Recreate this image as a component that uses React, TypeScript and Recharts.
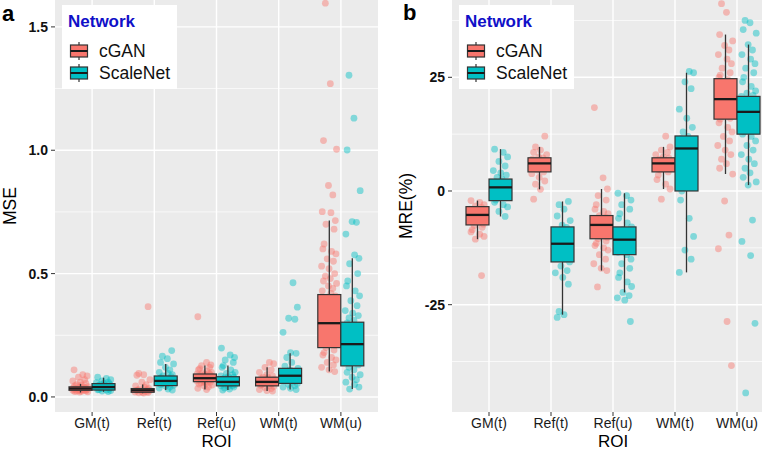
import React from "react";
import { ComposedChart, Bar, Scatter, XAxis, YAxis, CartesianGrid, ReferenceLine, Label, Legend } from "recharts";

const FONT = '"Liberation Sans", Arial, Helvetica, sans-serif';
const RED = "#F8766D";
const TEAL = "#00BFC4";

const roiNames = ["GM(t)", "Ref(t)", "Ref(u)", "WM(t)", "WM(u)"];

// panel a: MSE box stats
const mseGanLo = [0.018, 0.015, 0.03, 0.024, 0.103];
const mseGanQ1 = [0.027, 0.019, 0.062, 0.045, 0.2];
const mseGanMed = [0.034, 0.027, 0.076, 0.061, 0.299];
const mseGanQ3 = [0.041, 0.034, 0.093, 0.08, 0.415];
const mseGanHi = [0.053, 0.05, 0.127, 0.12, 0.715];
const mseNetLo = [0.021, 0.028, 0.028, 0.03, 0.032];
const mseNetQ1 = [0.028, 0.046, 0.045, 0.055, 0.126];
const mseNetMed = [0.04, 0.065, 0.061, 0.086, 0.214];
const mseNetQ3 = [0.054, 0.085, 0.082, 0.116, 0.303];
const mseNetHi = [0.078, 0.134, 0.127, 0.177, 0.562];

// panel a: individual subjects
const mseGanPts = [
  [0.11, 0.09, 0.085, 0.08, 0.07, 0.065, 0.06, 0.055, 0.05, 0.048, 0.045, 0.042, 0.04, 0.04, 0.038, 0.036, 0.035, 0.034, 0.033, 0.032, 0.031, 0.03, 0.03, 0.029, 0.028, 0.027, 0.026, 0.025, 0.024, 0.023, 0.022, 0.021, 0.02],
  [0.366, 0.095, 0.09, 0.088, 0.07, 0.06, 0.05, 0.045, 0.04, 0.035, 0.033, 0.03, 0.028, 0.027, 0.026, 0.025, 0.024, 0.022, 0.02, 0.019, 0.018, 0.017, 0.016],
  [0.325, 0.14, 0.13, 0.127, 0.12, 0.115, 0.11, 0.105, 0.1, 0.098, 0.095, 0.093, 0.091, 0.09, 0.088, 0.086, 0.085, 0.083, 0.082, 0.08, 0.079, 0.078, 0.077, 0.076, 0.075, 0.074, 0.073, 0.072, 0.07, 0.068, 0.066, 0.064, 0.062, 0.06, 0.058, 0.055, 0.052, 0.048, 0.045, 0.04, 0.035, 0.03],
  [0.14, 0.135, 0.12, 0.11, 0.1, 0.09, 0.085, 0.08, 0.078, 0.075, 0.072, 0.07, 0.066, 0.063, 0.061, 0.058, 0.055, 0.052, 0.05, 0.047, 0.045, 0.042, 0.038, 0.034, 0.03, 0.026, 0.024],
  [1.596, 1.27, 1.039, 1.004, 0.857, 0.819, 0.751, 0.747, 0.715, 0.7, 0.68, 0.62, 0.6, 0.59, 0.58, 0.56, 0.55, 0.53, 0.52, 0.5, 0.49, 0.48, 0.47, 0.46, 0.45, 0.44, 0.43, 0.42, 0.41, 0.4, 0.39, 0.38, 0.37, 0.36, 0.35, 0.34, 0.33, 0.32, 0.31, 0.3, 0.29, 0.28, 0.27, 0.26, 0.25, 0.24, 0.23, 0.22, 0.21, 0.2, 0.19, 0.18, 0.17, 0.16, 0.15, 0.14, 0.13, 0.12, 0.11, 0.103],
];
const mseNetPts = [
  [0.08, 0.075, 0.07, 0.065, 0.06, 0.058, 0.055, 0.053, 0.05, 0.048, 0.046, 0.044, 0.042, 0.04, 0.039, 0.038, 0.036, 0.034, 0.032, 0.03, 0.029, 0.028, 0.026, 0.024, 0.022],
  [0.188, 0.165, 0.155, 0.14, 0.134, 0.12, 0.11, 0.1, 0.095, 0.09, 0.085, 0.082, 0.078, 0.075, 0.072, 0.07, 0.068, 0.065, 0.063, 0.06, 0.057, 0.055, 0.052, 0.05, 0.047, 0.044, 0.04, 0.036, 0.032, 0.028],
  [0.198, 0.17, 0.16, 0.15, 0.14, 0.127, 0.12, 0.11, 0.1, 0.095, 0.09, 0.085, 0.082, 0.08, 0.077, 0.074, 0.072, 0.07, 0.068, 0.066, 0.064, 0.062, 0.061, 0.06, 0.058, 0.056, 0.054, 0.052, 0.05, 0.048, 0.046, 0.045, 0.042, 0.04, 0.036, 0.032, 0.028],
  [0.463, 0.364, 0.319, 0.315, 0.262, 0.18, 0.177, 0.16, 0.14, 0.125, 0.116, 0.11, 0.1, 0.095, 0.09, 0.086, 0.08, 0.075, 0.07, 0.065, 0.06, 0.055, 0.05, 0.045, 0.04, 0.035, 0.03],
  [1.304, 1.13, 1.001, 0.836, 0.711, 0.708, 0.66, 0.576, 0.562, 0.54, 0.5, 0.47, 0.45, 0.43, 0.41, 0.39, 0.37, 0.35, 0.34, 0.33, 0.32, 0.31, 0.3, 0.29, 0.28, 0.27, 0.26, 0.25, 0.24, 0.23, 0.22, 0.21, 0.2, 0.19, 0.18, 0.17, 0.16, 0.15, 0.14, 0.13, 0.12, 0.11, 0.1, 0.09, 0.08, 0.07, 0.06, 0.05, 0.04, 0.032],
];

// panel b: MRE (%) box stats
const mreGanLo = [-10.6, 0.37, -17.5, 0.44, 3.73];
const mreGanQ1 = [-7.46, 4.2, -10.5, 4.2, 15.8];
const mreGanMed = [-5.26, 6.07, -7.46, 6.07, 20.2];
const mreGanQ3 = [-3.44, 7.3, -5.4, 7.3, 24.7];
const mreGanHi = [-2.12, 9.7, 0.44, 9.7, 34.4];
const mreNetLo = [-5.6, -27.2, -22.3, -17.9, 1.3];
const mreNetQ1 = [-2.12, -15.6, -14.0, 0, 12.5];
const mreNetMed = [0.8, -11.6, -10.7, 9.35, 17.4];
const mreNetQ3 = [2.63, -7.9, -7.9, 12.1, 20.8];
const mreNetHi = [9.2, -2.3, -0.5, 26.0, 32.2];

const mreGanPts = [
  [-2.1, -2.5, -3, -3.3, -3.6, -4, -4.3, -4.6, -5, -5.2, -5.5, -5.8, -6, -6.3, -6.6, -7, -7.3, -7.6, -8, -8.5, -9, -9.5, -10, -10.6, -18.6],
  [12.06, 9.7, 9, 8.5, 8, 7.5, 7.3, 7, 6.8, 6.5, 6.2, 6, 5.8, 5.5, 5.2, 5, 4.6, 4.2, 3.8, 3, 2.2, 1.5, 0.37, -1.8],
  [18.35, 2.9, 0.44, -1, -2, -3, -4, -4.5, -5, -5.4, -5.8, -6.2, -6.6, -7, -7.2, -7.5, -7.8, -8.2, -8.6, -9, -9.4, -9.8, -10.2, -10.5, -11, -11.5, -12, -12.5, -13, -14, -15, -16, -17, -17.5, -21.1],
  [12.06, 9.7, 9, 8.5, 8, 7.5, 7.2, 7, 6.8, 6.5, 6.2, 6, 5.8, 5.5, 5.2, 5, 4.6, 4.2, 3.5, 2.5, 1.5, 0.44, -1.8],
  [41.2, 39.3, 34.4, 33, 32, 31, 30, 29, 28, 27, 26, 25.5, 25, 24.5, 24, 23, 22.5, 22, 21.5, 21, 20.5, 20.2, 20, 19.5, 19, 18.5, 18, 17.5, 17, 16.5, 16, 15.8, 15, 14, 13, 12, 11, 10, 9, 8, 7, 6, 5, 3.73, -2.2, -9.7, -12.7, -28.7, -38.4],
];
const mreNetPts = [
  [9.2, 8.5, 7.5, 6.5, 5.5, 4.5, 4, 3.5, 3, 2.6, 2, 1.5, 1, 0.8, 0.5, 0, -0.5, -1, -1.5, -2, -2.5, -3, -3.5, -4.5, -5.6],
  [-2.3, -3, -4, -5.5, -6.5, -7.5, -8, -9, -10, -11, -11.6, -12, -13, -14, -15, -15.6, -16.5, -17.5, -18, -19, -20.5, -26.5, -27.2, -27.8],
  [-0.5, -1, -2, -3, -4, -5, -6, -7, -7.9, -8.5, -9, -9.5, -10, -10.4, -10.7, -11, -11.5, -12, -12.5, -13, -13.5, -14, -15, -16, -17, -18, -19, -20, -21, -22.3, -23, -23.5, -24, -28.7],
  [26.3, 26, 24, 22.5, 18, 16, 14, 13, 12, 11.5, 10.5, 9.5, 9, 8, 7, 5, 3, 1, 0, -2, -6, -10, -13, -15, -17.9],
  [37.5, 37, 35.5, 34.7, 32.2, 31, 30, 29, 28, 27, 26, 25, 24, 23, 22, 21.5, 21, 20.8, 20, 19.5, 19, 18.5, 18, 17.4, 17, 16.5, 16, 15.5, 15, 14, 13.5, 13, 12.5, 12, 11, 10, 9, 8, 7, 6, 5, 4, 3, 2, 1.3, -6.4, -11.1, -14.2, -29.1, -44.4],
];

// fixed horizontal jitter pattern (category units)
const JIT = [-0.1, 0.04, 0.11, -0.03, 0.07, -0.12, 0.0, 0.09, -0.06, 0.02, -0.09, 0.12, -0.01, 0.06, -0.11, 0.03, 0.1, -0.05, 0.08, -0.08];

const makeRows = (g: number[][], n: number[][]) =>
  roiNames.map((roi, i) => ({
    roi,
    gan: { lo: g[0][i], q1: g[1][i], med: g[2][i], q3: g[3][i], hi: g[4][i] },
    net: { lo: n[0][i], q1: n[1][i], med: n[2][i], q3: n[3][i], hi: n[4][i] },
    ganBox: [g[1][i], g[3][i]],
    netBox: [n[1][i], n[3][i]],
  }));

const makePoints = (pts: number[][], dodge: number) =>
  pts.flatMap((vals, i) => vals.map((v, j) => ({ x: i + 1 + dodge + JIT[(j + i * 7) % JIT.length], y: v })));

const BoxShape = (props: any) => {
  const { x, y, width, height, payload, statKey, fill } = props;
  const s = payload[statKey];
  const top = Math.min(y, y + height);
  const h = Math.abs(height);
  const k = h / (s.q3 - s.q1);
  const py = (v: number) => top + (s.q3 - v) * k;
  const cx = x + width / 2;
  return (
    <g>
      <line x1={cx} x2={cx} y1={py(s.hi)} y2={top} stroke="#333" strokeWidth={1.3} />
      <line x1={cx} x2={cx} y1={top + h} y2={py(s.lo)} stroke="#333" strokeWidth={1.3} />
      <rect x={x} y={top} width={width} height={h} fill={fill} stroke="#333" strokeWidth={1.2} />
      <line x1={x} x2={x + width} y1={py(s.med)} y2={py(s.med)} stroke="#1a1a1a" strokeWidth={2.3} />
    </g>
  );
};

const KeyGlyph = ({ color }: { color: string }) => (
  <svg width={20} height={20} style={{ display: "block" }}>
    <line x1={10} x2={10} y1={1} y2={19} stroke="#333" strokeWidth={1.2} />
    <rect x={1.5} y={4} width={17} height={12} fill={color} stroke="#333" strokeWidth={1.2} />
    <line x1={1.5} x2={18.5} y1={10} y2={10} stroke="#1a1a1a" strokeWidth={2} />
  </svg>
);

const NetworkKey = () => (
  <div style={{ position: "relative", width: 115, height: 84, background: "#fff", fontFamily: FONT }}>
    <div style={{ position: "absolute", left: 6, top: 7, fontSize: 17, fontWeight: "bold", color: "#1010c8", lineHeight: "20px" }}>Network</div>
    <div style={{ position: "absolute", left: 7, top: 36 }}><KeyGlyph color={RED} /></div>
    <div style={{ position: "absolute", left: 37, top: 35, fontSize: 17.5, color: "#111", lineHeight: "22px" }}>cGAN</div>
    <div style={{ position: "absolute", left: 7, top: 58 }}><KeyGlyph color={TEAL} /></div>
    <div style={{ position: "absolute", left: 37, top: 57, fontSize: 17.5, color: "#111", lineHeight: "22px" }}>ScaleNet</div>
  </div>
);

interface PanelProps {
  rows: any[];
  ganPts: { x: number; y: number }[];
  netPts: { x: number; y: number }[];
  domain: [number, number];
  major: number[];
  minor: number[];
  fmt: (v: number) => string;
  yTitle: string;
  yAxisWidth: number;
  titleOffset: number;
  width: number;
  marginRight: number;
}

const Panel = ({ rows, ganPts, netPts, domain, major, minor, fmt, yTitle, yAxisWidth, titleOffset, width, marginRight }: PanelProps) => (
  <ComposedChart width={width} height={451} data={rows} margin={{ top: 0, right: marginRight, bottom: 0, left: 0 }} barGap={0}>
    <CartesianGrid fill="#EBEBEB" horizontal={false} vertical={false} />
    <XAxis
      dataKey="roi"
      type="category"
      padding={{ left: 6, right: 6 }}
      height={39}
      tickSize={4}
      tickMargin={2}
      tickLine={{ stroke: "#333" }}
      axisLine={false}
      interval={0}
      tick={{ fill: "#1a1a1a", fontSize: 14, fontFamily: FONT }}
    >
      <Label value="ROI" position="insideBottom" offset={4} style={{ fontSize: 17, fill: "#000", fontFamily: FONT }} />
    </XAxis>
    <XAxis xAxisId="n" dataKey="x" type="number" domain={[0.5, 5.5]} padding={{ left: 6, right: 6 }} allowDataOverflow hide />
    <YAxis
      dataKey="y"
      type="number"
      domain={domain}
      allowDataOverflow
      ticks={major}
      tickFormatter={fmt}
      width={yAxisWidth}
      tickSize={4}
      tickMargin={3}
      tickLine={{ stroke: "#333" }}
      axisLine={false}
      tick={{ fill: "#111", fontSize: 14, fontWeight: "bold", fontFamily: FONT }}
    >
      <Label value={yTitle} angle={-90} position="insideLeft" offset={titleOffset} style={{ fontSize: 17.5, fill: "#000", fontFamily: FONT, textAnchor: "middle" }} />
    </YAxis>
    {minor.map((v) => (
      <ReferenceLine key={"mi" + v} y={v} xAxisId="n" stroke="#fff" strokeWidth={0.7} zIndex={-60} />
    ))}
    {major.map((v) => (
      <ReferenceLine key={"ma" + v} y={v} xAxisId="n" stroke="#fff" strokeWidth={1.4} zIndex={-60} />
    ))}
    {roiNames.map((r, i) => (
      <ReferenceLine key={"v" + r} x={i + 1} xAxisId="n" stroke="#fff" strokeWidth={1.4} zIndex={-60} />
    ))}
    <Scatter
      data={ganPts}
      xAxisId="n"
      dataKey="y"
      isAnimationActive={false}
      zIndex={100}
      shape={(p: any) => <circle cx={p.cx} cy={p.cy} r={3.4} fill={RED} fillOpacity={0.45} />}
    />
    <Scatter
      data={netPts}
      xAxisId="n"
      dataKey="y"
      isAnimationActive={false}
      zIndex={100}
      shape={(p: any) => <circle cx={p.cx} cy={p.cy} r={3.4} fill={TEAL} fillOpacity={0.45} />}
    />
    <Bar dataKey="ganBox" barSize={23} isAnimationActive={false} zIndex={300} shape={(p: any) => <BoxShape {...p} statKey="gan" fill={RED} />} />
    <Bar dataKey="netBox" barSize={23} isAnimationActive={false} zIndex={300} shape={(p: any) => <BoxShape {...p} statKey="net" fill={TEAL} />} />
    <Legend
      layout="vertical"
      align="center"
      verticalAlign="middle"
      content={() => <NetworkKey />}
      wrapperStyle={{ left: yAxisWidth + 7, top: 5, width: 115, height: 84 }}
    />
  </ComposedChart>
);

const mseRows = makeRows(
  [mseGanLo, mseGanQ1, mseGanMed, mseGanQ3, mseGanHi],
  [mseNetLo, mseNetQ1, mseNetMed, mseNetQ3, mseNetHi]
);
const mreRows = makeRows(
  [mreGanLo, mreGanQ1, mreGanMed, mreGanQ3, mreGanHi],
  [mreNetLo, mreNetQ1, mreNetMed, mreNetQ3, mreNetHi]
);

export default function App() {
  return (
    <div style={{ position: "absolute", left: 0, top: 0, width: 762, height: 451, overflow: "hidden", background: "#fff", fontFamily: FONT }}>
      <div style={{ position: "absolute", left: 0, top: 0 }}>
        <Panel
          rows={mseRows}
          ganPts={makePoints(mseGanPts, -0.19)}
          netPts={makePoints(mseNetPts, 0.19)}
          domain={[-0.061, 1.609]}
          major={[0, 0.5, 1, 1.5]}
          minor={[0.25, 0.75, 1.25]}
          fmt={(v) => v.toFixed(1)}
          yTitle="MSE"
          yAxisWidth={55}
          titleOffset={10}
          width={381}
          marginRight={3}
        />
      </div>
      <div style={{ position: "absolute", left: 381, top: 0 }}>
        <Panel
          rows={mreRows}
          ganPts={makePoints(mreGanPts, -0.19)}
          netPts={makePoints(mreNetPts, 0.19)}
          domain={[-48.6, 42.0]}
          major={[-25, 0, 25]}
          minor={[-37.5, -12.5, 12.5, 37.5]}
          fmt={(v) => String(v)}
          yTitle="MRE(%)"
          yAxisWidth={71}
          titleOffset={25}
          width={400}
          marginRight={7}
        />
      </div>
      <div style={{ position: "absolute", left: 2, top: 3, fontSize: 22, fontWeight: "bold", lineHeight: "22px", color: "#000" }}>a</div>
      <div style={{ position: "absolute", left: 403, top: 2, fontSize: 22, fontWeight: "bold", lineHeight: "22px", color: "#000" }}>b</div>
    </div>
  );
}
